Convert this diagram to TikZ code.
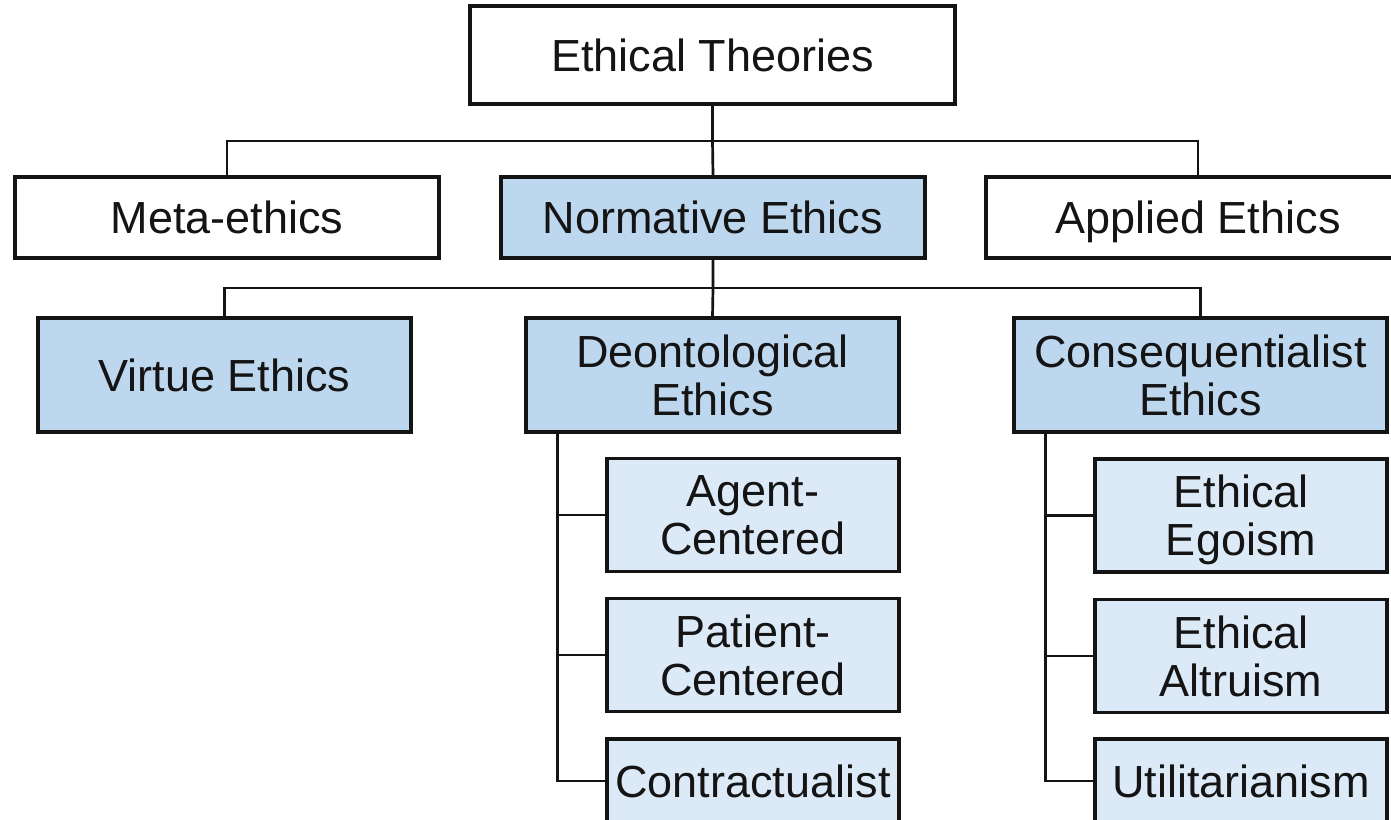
\documentclass[tikz,border=0pt]{standalone}
\usepackage{fontspec}
\setmainfont{Liberation Sans}
\definecolor{midblue}{RGB}{189,215,238}
\definecolor{lightblue}{RGB}{220,233,246}
\definecolor{ink}{RGB}{20,20,20}
\begin{document}
\begin{tikzpicture}[x=0.5pt,y=-0.5pt,
  box/.style={draw=ink, line width=1.6pt, rectangle, inner sep=0pt, align=center,
    font=\fontsize{22.5}{24}\selectfont, text=ink, text depth=0pt},
  topbox/.style={box, fill=white, minimum width=212pt, minimum height=40.5pt},
  midbox/.style={box, fill=midblue, minimum width=186.5pt, minimum height=57pt},
  subbox/.style={box, fill=lightblue, minimum width=146pt, minimum height=56.5pt},
  lastbox/.style={box, fill=lightblue, minimum width=146pt, minimum height=42pt},
  conn/.style={draw=ink, line width=1.35pt}]
\useasboundingbox (0,0) rectangle (1391,819);
\clip (0,0) rectangle (1391,819);
\fill[white] (0,0) rectangle (1391,819);

\node[box, fill=white, minimum width=242.5pt, minimum height=49pt] (ET) at (712.5,55) {Ethical Theories};

\node[topbox] (meta) at (227,217.5) {Meta-ethics};
\node[topbox, fill=midblue] (norm) at (713,217.5) {Normative Ethics};
\node[topbox] (app) at (1198,217.5) {Applied Ethics};

\node[midbox] (virtue) at (224.5,375) {Virtue Ethics};
\node[midbox] (deon) at (712.5,375) {Deontological\\Ethics};
\node[midbox] (conseq) at (1200.5,375) {Consequentialist\\Ethics};

\node[subbox] (agent) at (753,515) {Agent-\\Centered};
\node[subbox] (patient) at (753,655) {Patient-\\Centered};
\node[lastbox] (contract) at (753,781) {Contractualist};

\node[subbox] (egoism) at (1241,515.5) {Ethical\\Egoism};
\node[subbox] (altruism) at (1241,656) {Ethical\\Altruism};
\node[lastbox] (util) at (1241,781) {Utilitarianism};

\coordinate (j1) at (712.5,141);
\draw[conn] (ET.south) -- (j1) -- (norm.north);
\draw[conn] (meta.north) |- (j1) -| (app.north);

\coordinate (j2) at (713,288);
\draw[conn] (norm.south) -- (j2) -- (deon.north);
\draw[conn] (virtue.north) |- (j2) -| (conseq.north);

\draw[conn] (deon.south west) ++(33,0) |- (agent.west);
\draw[conn] (deon.south west) ++(33,0) |- (patient.west);
\draw[conn] (deon.south west) ++(33,0) |- (contract.west);

\draw[conn] (conseq.south west) ++(33,0) |- (egoism.west);
\draw[conn] (conseq.south west) ++(33,0) |- (altruism.west);
\draw[conn] (conseq.south west) ++(33,0) |- (util.west);
\end{tikzpicture}
\end{document}
